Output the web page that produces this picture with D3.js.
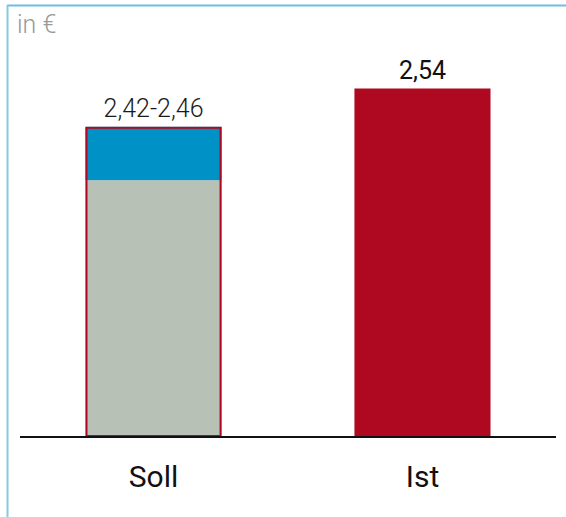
<html>
<head>
<script src="https://d3js.org/d3.v7.min.js"></script>
<style>
  body { margin: 0; background: #fff; }
  text { font-family: Roboto, "Open Sans", sans-serif; }
</style>
</head>
<body>
<svg id="chart" width="566" height="517"></svg>
<script>
    // categories and values
    const categories = ["Soll", "Ist"];
    const sollBase = 1.87;      // gray part of Soll bar
    const sollTop = 2.26;       // top of blue range
    const istValue = 2.54;
    const valueLabels = ["2,42-2,46", "2,54"];
    const unitLabel = "in €";

    const svg = d3.select("#chart");
    const width = +svg.attr("width");

    // frame lines (top and left)
    svg.append("line")
        .attr("x1", 7).attr("x2", width).attr("y1", 5.5).attr("y2", 5.5)
        .attr("stroke", "#6dbfdf").attr("stroke-width", 2);
    svg.append("line")
        .attr("x1", 7.5).attr("x2", 7.5).attr("y1", 5).attr("y2", 517)
        .attr("stroke", "#86c9e3").attr("stroke-width", 2);

    svg.append("text")
        .attr("x", 17).attr("y", 33)
        .attr("font-size", 25).attr("font-weight", 300)
        .attr("fill", "#9a9a9a")
        .text(unitLabel);

    // scales
    const x = d3.scaleBand()
        .domain(categories)
        .range([20, 556])
        .paddingInner(0.494)
        .paddingOuter(0.2435);

    const y = d3.scaleLinear()
        .domain([0, istValue])
        .range([436, 88.5]);

    const red = "#ae0920";

    // Soll bar: gray base + blue range, red outline
    const sx = x("Soll"), bw = x.bandwidth();
    svg.append("rect")
        .attr("x", sx).attr("y", y(sollBase))
        .attr("width", bw).attr("height", y(0) - y(sollBase))
        .attr("fill", "#b8c1b6");
    svg.append("rect")
        .attr("x", sx).attr("y", y(sollTop))
        .attr("width", bw).attr("height", y(sollBase) - y(sollTop))
        .attr("fill", "#0091c6");
    svg.append("rect")
        .attr("x", sx + 1).attr("y", y(sollTop) + 1)
        .attr("width", bw - 2).attr("height", y(0) - y(sollTop) - 1)
        .attr("fill", "none")
        .attr("stroke", red).attr("stroke-width", 2);

    // Ist bar
    svg.append("rect")
        .attr("x", x("Ist")).attr("y", y(istValue))
        .attr("width", bw).attr("height", y(0) - y(istValue))
        .attr("fill", red);

    // value labels
    svg.append("text")
        .attr("x", sx + bw / 2).attr("y", y(sollTop) - 10)
        .attr("text-anchor", "middle")
        .attr("font-size", 25).attr("font-weight", 300)
        .attr("fill", "#1a1a1a")
        .text(valueLabels[0]);
    svg.append("text")
        .attr("x", x("Ist") + bw / 2).attr("y", y(istValue) - 10)
        .attr("text-anchor", "middle")
        .attr("font-size", 25).attr("font-weight", 400)
        .attr("fill", "#111")
        .text(valueLabels[1]);

    // baseline
    svg.append("line")
        .attr("x1", 20).attr("x2", 556)
        .attr("y1", y(0) + 1).attr("y2", y(0) + 1)
        .attr("stroke", "#111").attr("stroke-width", 2);

    // category labels
    svg.selectAll(".cat")
        .data(categories)
        .join("text")
        .attr("class", "cat")
        .attr("x", d => x(d) + bw / 2)
        .attr("y", 487)
        .attr("text-anchor", "middle")
        .attr("font-size", 30)
        .attr("fill", "#111")
        .text(d => d);
</script>
</body>
</html>
